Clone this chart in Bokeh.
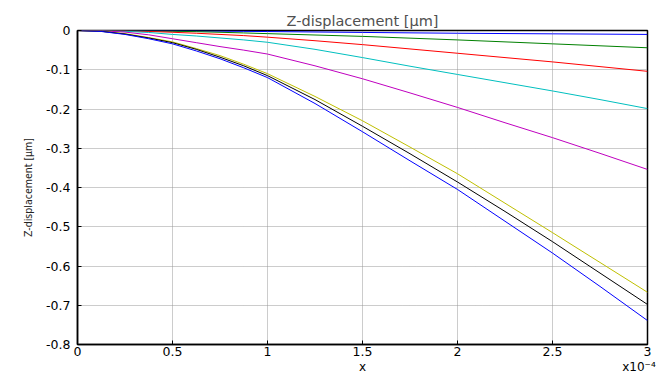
from bokeh.plotting import figure
from bokeh.models import Range1d, FixedTicker, LinearAxis
from bokeh.embed import file_html
from bokeh.resources import INLINE

# x in units of 1e-4
x = [0, 0.125, 0.25, 0.375, 0.5, 0.625, 0.75, 0.875, 1.0, 1.25, 1.5, 1.75, 2.0, 2.25, 2.5, 2.75, 3.0]

z_blue_top = [0, -0.0001, -0.0002, -0.0005, -0.0008, -0.0012, -0.0016, -0.0021, -0.0027,
              -0.0038, -0.0049, -0.006, -0.007, -0.0078, -0.0085, -0.0092, -0.0100]
z_green = [0, -0.0001, -0.0005, -0.001, -0.0018, -0.003, -0.0045, -0.0062, -0.008,
           -0.0115, -0.015, -0.0195, -0.024, -0.029, -0.034, -0.039, -0.044]
z_red = [0, -0.0002, -0.001, -0.0025, -0.0045, -0.007, -0.010, -0.013, -0.017,
         -0.026, -0.036, -0.047, -0.058, -0.069, -0.080, -0.092, -0.104]
z_cyan = [0, -0.0005, -0.002, -0.005, -0.010, -0.014, -0.019, -0.024, -0.030,
          -0.048, -0.069, -0.091, -0.112, -0.133, -0.154, -0.176, -0.199]
z_magenta = [0, -0.001, -0.004, -0.011, -0.021, -0.031, -0.041, -0.050, -0.060,
             -0.090, -0.123, -0.159, -0.196, -0.235, -0.273, -0.313, -0.354]
z_yellow = [0, -0.002, -0.008, -0.018, -0.029, -0.046, -0.064, -0.086, -0.110,
            -0.168, -0.230, -0.297, -0.365, -0.440, -0.515, -0.591, -0.667]
z_black = [0, -0.002, -0.009, -0.019, -0.031, -0.048, -0.068, -0.090, -0.115,
           -0.176, -0.244, -0.314, -0.386, -0.461, -0.538, -0.618, -0.698]
z_blue_bottom = [0, -0.0025, -0.010, -0.021, -0.034, -0.052, -0.072, -0.095, -0.120,
                 -0.186, -0.258, -0.332, -0.405, -0.486, -0.567, -0.652, -0.739]

series = [
    (z_blue_top, "#0000ff"),
    (z_green, "#008000"),
    (z_red, "#ff0000"),
    (z_cyan, "#00bfbf"),
    (z_magenta, "#bf00bf"),
    (z_yellow, "#bfbf00"),
    (z_black, "#000000"),
    (z_blue_bottom, "#0000ff"),
]

x_ticks = [0, 0.5, 1, 1.5, 2, 2.5, 3]
x_tick_labels = ["0", "0.5", "1", "1.5", "2", "2.5", "3"]
y_ticks = [0, -0.1, -0.2, -0.3, -0.4, -0.5, -0.6, -0.7, -0.8]
y_tick_labels = ["0", "-0.1", "-0.2", "-0.3", "-0.4", "-0.5", "-0.6", "-0.7", "-0.8"]

x_title = "x"
x_exponent = "x10⁻⁴"

p = figure(width=658, height=376, output_backend="svg", toolbar_location=None,
           x_range=Range1d(0, 3), y_range=Range1d(-0.8, 0),
           min_border_left=77, min_border_right=11, min_border_top=30, min_border_bottom=31)

p.title.text = "Z-displacement [μm]"
p.title.align = "center"
p.title.text_font = "DejaVu Sans"
p.title.text_font_size = "14.5px"
p.title.text_font_style = "normal"
p.title.text_color = "#505050"
p.title.offset = 0
p.title.standoff = 4

for ys, c in series:
    p.line(x, ys, line_color=c, line_width=1)

p.xaxis.ticker = FixedTicker(ticks=x_ticks)
p.yaxis.ticker = FixedTicker(ticks=y_ticks)
p.xaxis.major_label_overrides = dict(zip(x_ticks, x_tick_labels))
p.yaxis.major_label_overrides = dict(zip(y_ticks, y_tick_labels))

for ax in (p.xaxis[0], p.yaxis[0]):
    ax.major_label_text_font = "DejaVu Sans"
    ax.major_label_text_font_size = "12.5px"
    ax.major_label_text_color = "black"
    ax.major_tick_in = 4
    ax.major_tick_out = 0
    ax.minor_tick_in = 0
    ax.minor_tick_out = 0
    ax.axis_line_color = "black"
    ax.axis_line_width = 1.5
    ax.major_tick_line_color = "black"
    ax.axis_label_text_font_style = "normal"

p.xaxis.major_label_standoff = 2

p.yaxis.axis_label = "Z-displacement [μm]"
p.yaxis.axis_label_text_font = "DejaVu Sans Condensed"
p.yaxis.axis_label_text_font_size = "10.5px"
p.yaxis.axis_label_text_color = "#222222"
p.yaxis.axis_label_standoff = 9
p.yaxis.major_label_standoff = 7

# second row below the tick labels: the axis title "x" (centred) and the exponent note (right)
title_row_pos = [1.5, 2.955]
title_axis = LinearAxis(ticker=FixedTicker(ticks=title_row_pos),
                        major_label_overrides=dict(zip(title_row_pos, [x_title, x_exponent])))
title_axis.axis_line_color = None
title_axis.major_tick_line_color = None
title_axis.minor_tick_line_color = None
title_axis.major_tick_in = 0
title_axis.major_tick_out = 0
title_axis.minor_tick_in = 0
title_axis.minor_tick_out = 0
title_axis.major_label_standoff = 1
title_axis.major_label_text_font = "DejaVu Sans"
title_axis.major_label_text_font_size = "12px"
title_axis.major_label_text_color = "black"
p.add_layout(title_axis, "below")

p.xgrid.grid_line_color = "#999999"
p.ygrid.grid_line_color = "#999999"
p.xgrid.grid_line_dash = "1 1"
p.ygrid.grid_line_dash = "1 1"

p.outline_line_color = "black"
p.outline_line_width = 1.5
p.outline_line_alpha = 1.0

open("out.html", "w").write(file_html(p, INLINE))
